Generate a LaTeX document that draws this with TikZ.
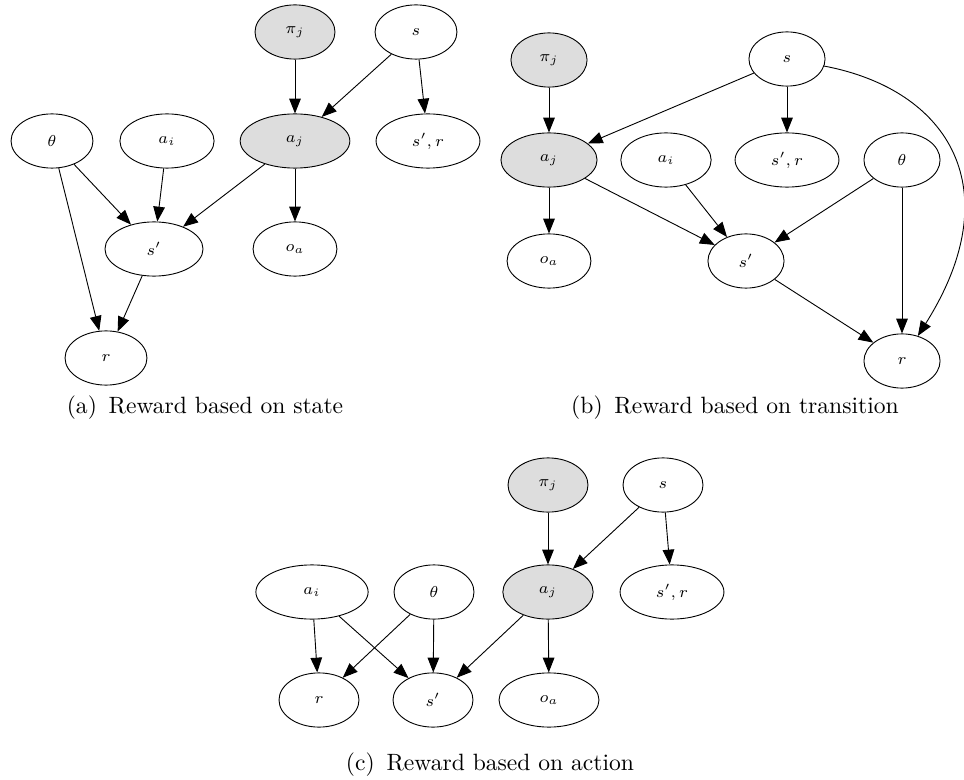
\documentclass[tikz,border=0pt]{standalone}
\usepackage{amsmath}
\usepackage{tikz}
\usetikzlibrary{shapes.geometric, arrows.meta, positioning}
\tikzset{
->, % every connector is directed
>={Triangle[length=0.23cm,width=0.18cm]}, % graphviz style heads
line width=0.7pt,
rv/.style={ellipse, draw, inner sep=0pt, minimum height=0.84cm, font=\scriptsize}, % a random variable
agent/.style={rv, fill=gray!27}, % the other agent's nodes are shaded
caption/.style={font=\normalsize, scale=1.04},
}

\begin{document}
\begin{tikzpicture}[x=0.0155cm, y=-0.0155cm]
\useasboundingbox (0,0) rectangle (964,780);

% (a) reward based on state
\node[agent, minimum width=1.24cm] (pia) at (295,32) {$\pi_j$};
\node[rv, minimum width=1.27cm] (sa) at (416,32) {$s$};
\node[agent, minimum width=1.70cm] (aja) at (295,141) {$a_j$};
\node[rv, minimum width=1.61cm] (sra) at (428,141) {$s', r$};
\node[rv, minimum width=1.27cm] (tha) at (52,141) {$\theta$};
\node[rv, minimum width=1.46cm] (aia) at (167,141) {$a_i$};
\node[rv, minimum width=1.52cm] (spa) at (154,249) {$s'$};
\node[rv, minimum width=1.30cm] (oa) at (295,249) {$o_a$};
\node[rv, minimum width=1.27cm] (ra) at (106,358) {$r$};
\draw   (pia) edge (aja)
        (sa) edge (aja)
        (sa) edge (sra)
        (tha) edge (spa)
        (tha) edge (ra)
        (aia) edge (spa)
        (aja) edge (spa)
        (aja) edge (oa)
        (spa) edge (ra);
\node[caption] (capa) at (205,408) {(a)\enspace Reward based on state};

% (b) reward based on transition
\begin{scope}[every node/.append style={minimum height=0.78cm}]
\node[agent, minimum width=1.18cm] (pib) at (549,60) {$\pi_j$};
\node[rv, minimum width=1.18cm] (sb) at (787,59) {$s$};
\node[agent, minimum width=1.49cm] (ajb) at (549,160) {$a_j$};
\node[rv, minimum width=1.40cm] (aib) at (666,160) {$a_i$};
\node[rv, minimum width=1.61cm] (srb) at (787,160) {$s', r$};
\node[rv, minimum width=1.18cm] (thb) at (902,160) {$\theta$};
\node[rv, minimum width=1.30cm] (ob) at (549,261) {$o_a$};
\node[rv, minimum width=1.18cm] (spb) at (746,261) {$s'$};
\node[rv, minimum width=1.18cm] (rb) at (902,361) {$r$};
\end{scope}
\draw   (pib) edge (ajb)
        (sb) edge (ajb)
        (sb) edge (srb)
        (ajb) edge (ob)
        (ajb) edge (spb)
        (aib) edge (spb)
        (thb) edge (spb)
        (thb) edge (rb)
        (spb) edge (rb);
\draw (sb) .. controls (950,90) and (1010,190) .. (rb);
\node[caption] (capb) at (735,408) {(b)\enspace Reward based on transition};

% (c) reward based on action
\node[agent, minimum width=1.24cm] (pic) at (548,485) {$\pi_j$};
\node[rv, minimum width=1.24cm] (sc) at (663,485) {$s$};
\node[agent, minimum width=1.40cm] (ajc) at (548,592) {$a_j$};
\node[rv, minimum width=1.61cm] (src) at (672,592) {$s', r$};
\node[rv, minimum width=1.74cm] (aic) at (312,592) {$a_i$};
\node[rv, minimum width=1.24cm] (thc) at (434,592) {$\theta$};
\node[rv, minimum width=1.24cm] (rc) at (319,700) {$r$};
\node[rv, minimum width=1.24cm] (spc) at (433,700) {$s'$};
\node[rv, minimum width=1.55cm] (oc) at (549,700) {$o_a$};
\draw   (pic) edge (ajc)
        (sc) edge (ajc)
        (sc) edge (src)
        (aic) edge (rc)
        (aic) edge (spc)
        (thc) edge (rc)
        (thc) edge (spc)
        (ajc) edge (spc)
        (ajc) edge (oc);
\node[caption] (capc) at (490,765) {(c)\enspace Reward based on action};

\end{tikzpicture}
\end{document}
